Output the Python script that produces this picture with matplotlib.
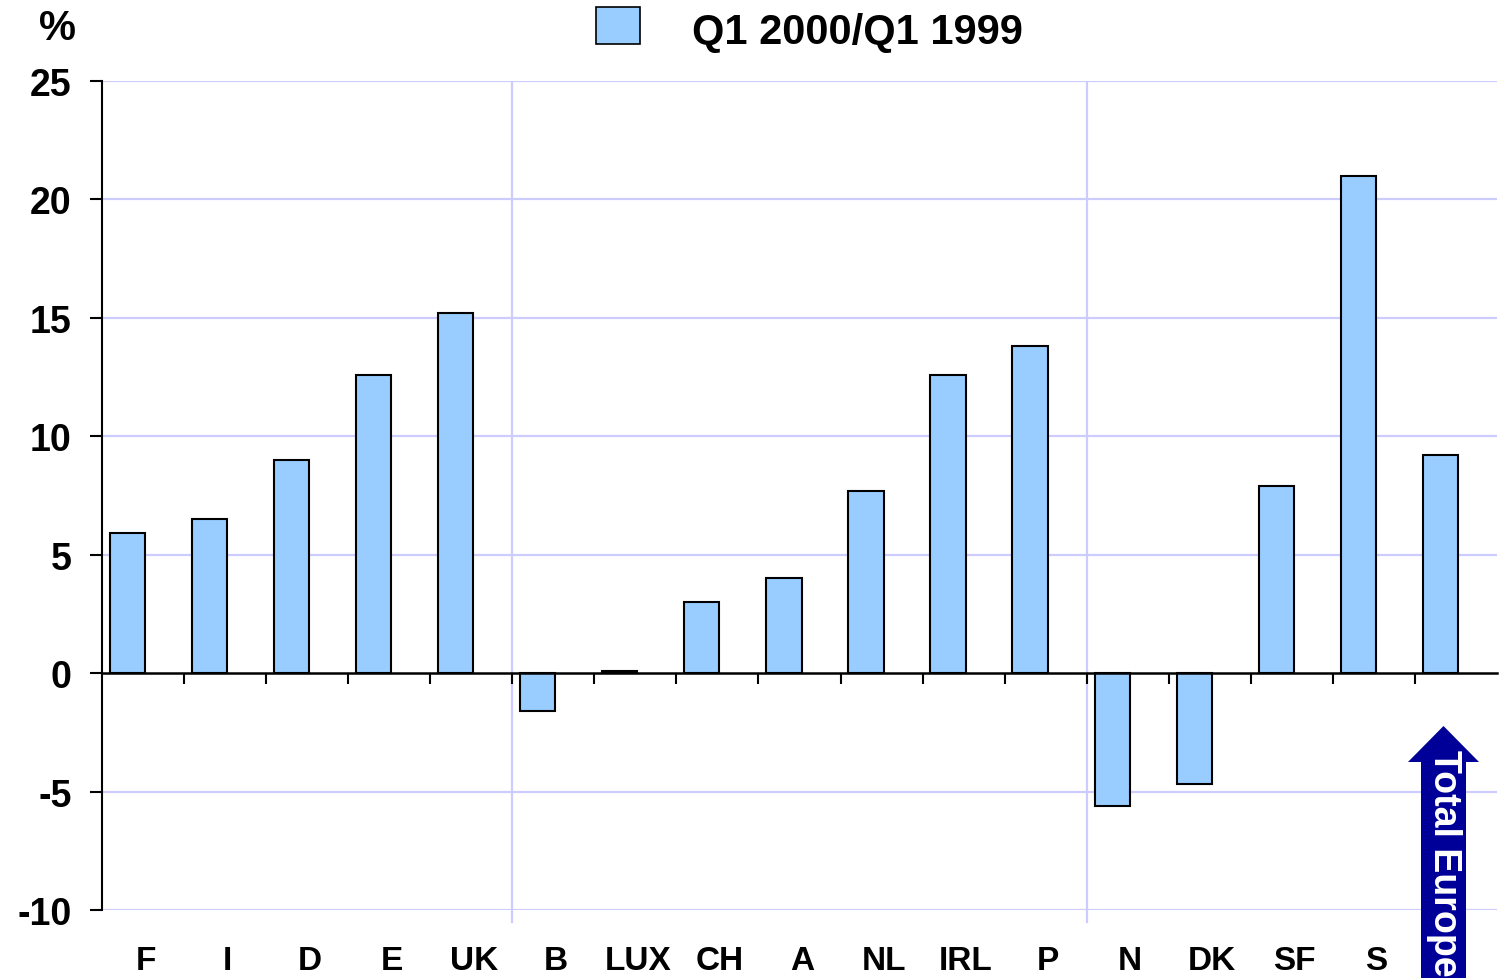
import matplotlib
matplotlib.use("Agg")
import matplotlib.pyplot as plt
import matplotlib.patches as patches
import matplotlib.transforms as transforms

plt.rcParams['font.family'] = ['Liberation Sans', 'DejaVu Sans']
plt.rcParams['font.weight'] = 'bold'
plt.rcParams['axes.unicode_minus'] = False

# Data
countries = ['F', 'I', 'D', 'E', 'UK', 'B', 'LUX', 'CH', 'A', 'NL', 'IRL', 'P',
             'N', 'DK', 'SF', 'S', 'Total Europe']
growth = [5.9, 6.5, 9.0, 12.6, 15.2, -1.6, 0.1, 3.0, 4.0, 7.7, 12.6, 13.8,
          -5.6, -4.7, 7.9, 21.0, 9.2]
series_name = 'Q1 2000/Q1 1999'
y_ticks = [-10, -5, 0, 5, 10, 15, 20, 25]
group_breaks = [4.5, 11.5]  # separators between country groups

bar_color = '#99ccff'
grid_color = '#ccccff'
navy = '#000099'

W, H = 1500, 979
fig = plt.figure(figsize=(W / 100, H / 100), dpi=100)
ax = fig.add_axes([102 / W, 1 - 911 / H, (1497 - 102) / W, (911 - 82) / H])

n = len(countries)
pos = list(range(n))
ax.bar([p - 0.19 for p in pos], growth, width=0.43, color=bar_color,
       edgecolor='black', linewidth=1.5, zorder=3)

ax.set_xlim(-0.5, n - 0.5)
ax.set_ylim(-10, 25)

# horizontal grid
ax.set_yticks(y_ticks)
for yv in y_ticks:
    if yv != 0:
        ax.axhline(yv, color=grid_color, linewidth=1.6, zorder=1)
# vertical group separators
for xb in group_breaks:
    ax.plot([xb, xb], [-10.5, 24.9], color=grid_color, linewidth=1.6,
            zorder=1, clip_on=False)

# spines
for s in ['top', 'right']:
    ax.spines[s].set_visible(False)
ax.spines['left'].set_linewidth(1.5)
ax.spines['bottom'].set_position(('data', 0))
ax.spines['bottom'].set_linewidth(1.8)
ax.spines['bottom'].set_zorder(4)

ax.tick_params(axis='y', direction='out', length=9, width=1.5, pad=13,
               labelsize=27)
for lab in ax.get_yticklabels():
    lab.set_fontweight('bold')

ax.set_xticks([p + 0.5 for p in pos[:-1]], minor=True)
ax.set_xticks(pos)
ax.set_xticklabels([])
ax.tick_params(axis='x', which='major', length=0)
ax.tick_params(axis='x', which='minor', direction='out', length=8, width=1.5)

# category labels at the bottom (last one shown as arrow)
trans = transforms.blended_transform_factory(ax.transData, fig.transFigure)
for p, c in zip(pos[:-1], countries[:-1]):
    ax.text(p + 0.03, 1 - 970 / H, c, transform=trans, ha='center',
            va='baseline', fontsize=24, fontweight='bold')

# "Total Europe" arrow
arrow_pts = [(1421, 979), (1421, 763), (1408, 763), (1443.5, 727),
             (1479, 763), (1466, 763), (1466, 979)]
arrow = patches.Polygon([(x / W, 1 - y / H) for x, y in arrow_pts],
                        closed=True, transform=fig.transFigure,
                        facecolor=navy, edgecolor='none', clip_on=False)
fig.add_artist(arrow)
fig.text(1444 / W, 1 - 750 / H, countries[-1], rotation=-90, ha='center',
         va='top', color='white', fontsize=27, fontweight='bold')

# legend
leg = patches.Rectangle((596 / W, 1 - 45 / H), 44 / W, 37 / H,
                        transform=fig.transFigure, facecolor=bar_color,
                        edgecolor='black', linewidth=1.2)
fig.add_artist(leg)
fig.text(692 / W, 1 - 44 / H, series_name, ha='left', va='baseline',
         fontsize=30, fontweight='bold')

fig.text(58 / W, 1 - 29 / H, '%', ha='center', va='center', fontsize=30,
         fontweight='bold')

fig.savefig('out.png', dpi=100)
